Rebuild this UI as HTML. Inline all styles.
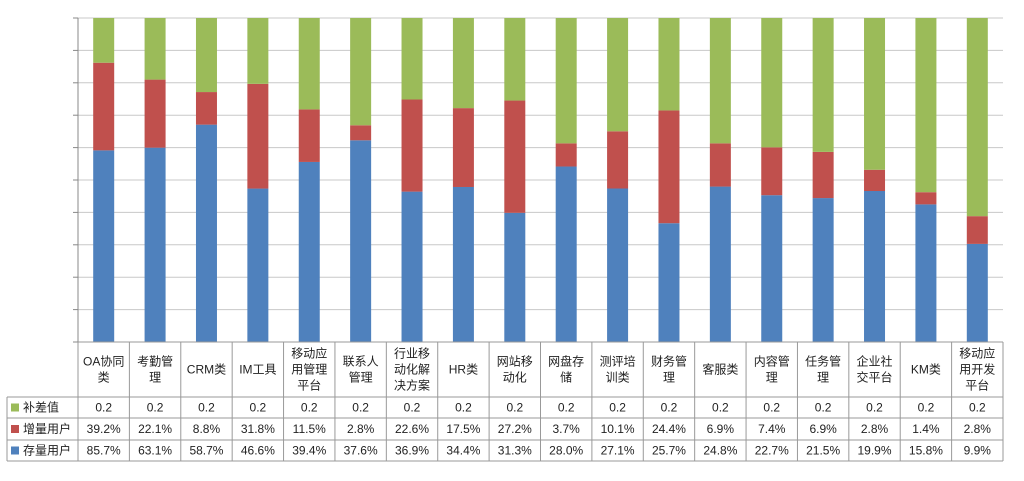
<!DOCTYPE html>
<html><head><meta charset="utf-8"><style>
body{margin:0;background:#fff;font-family:"Liberation Sans","Noto Sans CJK SC",sans-serif;}
svg text{font-family:"Liberation Sans","Noto Sans CJK SC",sans-serif;font-size:12px;fill:#222;}
</style></head><body>
<svg id="c" width="1024" height="476"></svg>
<script>
const categories=[["OA协同","类"],["考勤管","理"],["CRM类"],["IM工具"],["移动应","用管理","平台"],["联系人","管理"],["行业移","动化解","决方案"],["HR类"],["网站移","动化"],["网盘存","储"],["测评培","训类"],["财务管","理"],["客服类"],["内容管","理"],["任务管","理"],["企业社","交平台"],["KM类"],["移动应","用开发","平台"]];
const existing=[85.7,63.1,58.7,46.6,39.4,37.6,36.9,34.4,31.3,28.0,27.1,25.7,24.8,22.7,21.5,19.9,15.8,9.9];
const added=[39.2,22.1,8.8,31.8,11.5,2.8,22.6,17.5,27.2,3.7,10.1,24.4,6.9,7.4,6.9,2.8,1.4,2.8];
const fillValue=[0.2,0.2,0.2,0.2,0.2,0.2,0.2,0.2,0.2,0.2,0.2,0.2,0.2,0.2,0.2,0.2,0.2,0.2];
const svg=document.getElementById('c');const NS='http://www.w3.org/2000/svg';
function mk(t,a,p){const e=document.createElementNS(NS,t);for(const k in a)e.setAttribute(k,a[k]);(p||svg).appendChild(e);return e;}
const x0=78,x1=1003,yT=18,yB=342,n=categories.length,cw=(x1-x0)/n,bw=21;
const y=f=>yB-f*(yB-yT);
for(let i=0;i<=10;i++){const yy=yT+i*(yB-yT)/10;
 const gl=mk('line',{x1:x0,y1:yy,x2:x1,y2:yy,stroke:'#c8c8c8'});
 
 
 const t=mk('line',{x1:x0-5,y1:yy,x2:x0,y2:yy,stroke:'#888'});
 
 }
const ax=mk('line',{x1:x0,y1:yT,x2:x0,y2:yB,stroke:'#888'});


for(let i=0;i<n;i++){
 const cx=x0+cw*(i+0.5),bx=cx-bw/2;
 const tot=existing[i]+added[i]+fillValue[i]*100;
 const fe=existing[i]/tot,fa=(existing[i]+added[i])/tot;
 const b=mk('rect',{x:bx,y:y(fe),width:bw,height:yB-y(fe),fill:'#4f81bd'});
 
 
 const r=mk('rect',{x:bx,y:y(fa),width:bw,height:y(fe)-y(fa),fill:'#c0504d'});
 
 
 const g=mk('rect',{x:bx,y:yT,width:bw,height:y(fa)-yT,fill:'#9bbb59'});
 
 
}
const rows=[397,418,440,461];
const grid=mk('g',{stroke:'#999','stroke-width':1});


mk('line',{x1:x0,y1:yB,x2:x1,y2:yB},grid);
rows.forEach(r=>mk('line',{x1:7,y1:r,x2:x1,y2:r},grid));
mk('line',{x1:7,y1:397,x2:7,y2:461},grid);
for(let i=0;i<=n;i++){const xx=x0+cw*i;mk('line',{x1:xx,y1:yB,x2:xx,y2:461},grid);}
const legend=[["补差值","#9bbb59"],["增量用户","#c0504d"],["存量用户","#4f81bd"]];
legend.forEach((l,j)=>{const cy=(rows[j]+rows[j+1])/2;
 const s=mk('rect',{x:11,y:cy-4,width:8,height:8,fill:l[1]});
 
 
 const t=mk('text',{x:23,y:cy+4});t.textContent=l[0];
 
 });
for(let i=0;i<n;i++){const cx=x0+cw*(i+0.5);
 const lines=categories[i];const h=16;const sy=369.5-(lines.length-1)*h/2+4;
 lines.forEach((s,k)=>{const t=mk('text',{x:cx,y:sy+k*h,'text-anchor':'middle'});t.textContent=s;
 
 });
 const vals=[String(fillValue[i]),added[i].toFixed(1)+'%',existing[i].toFixed(1)+'%'];
 vals.forEach((v,j)=>{const t=mk('text',{x:cx,y:(rows[j]+rows[j+1])/2+4,'text-anchor':'middle'});t.textContent=v;
 
 });
}
</script>
</body></html>
